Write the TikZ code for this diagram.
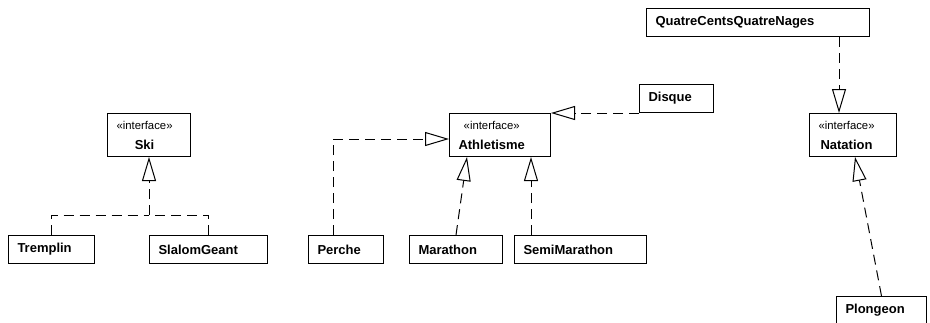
\documentclass[tikz,border=0pt]{standalone}
\usepackage{fontspec}
\setmainfont{Liberation Sans}
\usetikzlibrary{arrows.meta,calc}

\tikzset{every picture/.style={line width=0.75pt}}
\tikzset{
	cls/.style={draw, anchor=north west, inner xsep=6.75pt, inner ysep=0pt,
		minimum height=21pt, text width=#1, align=left,
		font=\fontsize{9.75}{15}\selectfont\bfseries},
	iface/.style={cls=#1, minimum height=32.25pt},
	realize/.style={dash pattern=on 7.5pt off 4.5pt,
		-{Triangle[open,length=18pt,width=10.5pt]}},
	dline/.style={dash pattern=on 7.5pt off 4.5pt}
}
\newcommand{\stereo}[1]{\begin{tabular}{@{}c@{}}{\mdseries\fontsize{8.5}{9}\selectfont «interface»}\\#1\end{tabular}}

\begin{document}
\begin{tikzpicture}[x=0.75pt,y=0.75pt,yscale=-1,xscale=1]
	\useasboundingbox (0,0) rectangle (930,322);

	% Interfaces
	\node[iface=48.75pt] (ski) at (107,113) {\stereo{Ski}};
	\node[iface=62.25pt] (athl) at (449,113) {\stereo{Athletisme}};
	\node[iface=51.75pt] (natation) at (809,113) {\stereo{Natation}};

	% Classes
	\node[cls=51pt] (tremplin) at (8,235) {Tremplin};
	\node[cls=75pt] (slalom) at (149,235) {SlalomGeant};
	\node[cls=42.75pt] (perche) at (308,235) {Perche};
	\node[cls=56.25pt] (marathon) at (409,235) {Marathon};
	\node[cls=85.5pt] (semi) at (514,235) {SemiMarathon};
	\node[cls=42pt] (disque) at (639,84) {Disque};
	\node[cls=153.75pt] (quatre) at (646,8) {QuatreCentsQuatreNages};
	\node[cls=54pt] (plongeon) at (836,296) {Plongeon};

	%Ski
	\coordinate (skijoin) at (ski.south |- 0,215);
	\draw[dline] (tremplin.north) |- (skijoin);
	\draw[dline] (slalom.north) |- (skijoin);
	\draw[realize] (skijoin) -- (ski.south);

	%Athletisme
	\draw[realize] ($(perche.north west)+(25,0)$) |- ($(athl.west)+(0,4)$);
	\draw[realize] (marathon.north) -- ($(athl.south west)+(18,0)$);
	\draw[realize] ($(semi.north west)+(17,0)$) -- ($(athl.south west)+(82,0)$);
	\draw[realize] (disque.south west) -- (athl.north east);

	%Natation
	\coordinate (natin) at ($(natation.north west)+(30,0)$);
	\draw[realize] (natin |- quatre.south) -- (natin);
	\draw[realize] (plongeon.north) -- ($(natation.south)+(2,0)$);

\end{tikzpicture}
\end{document}
